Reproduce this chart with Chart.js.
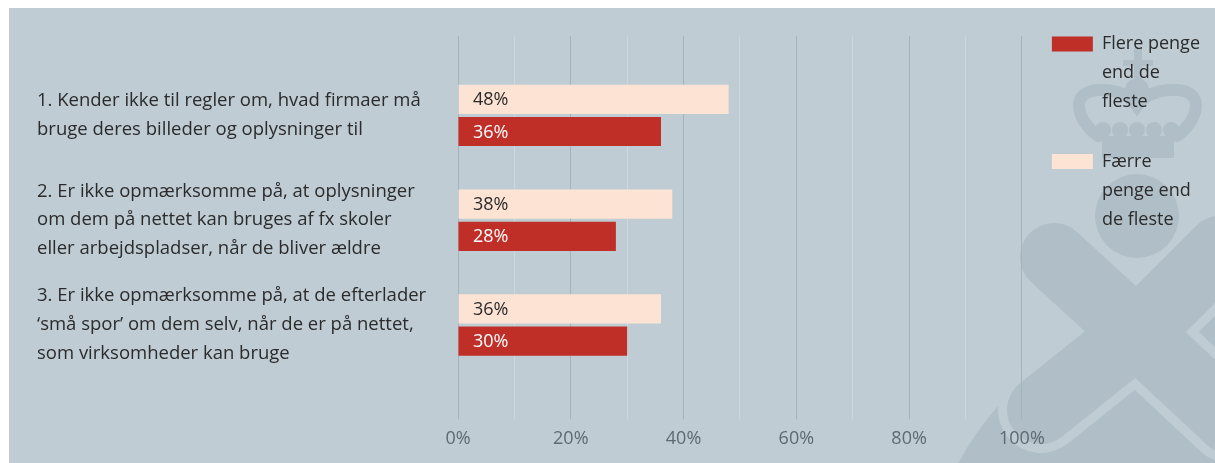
<!DOCTYPE html>
<html>
<head>
<meta charset="utf-8">
<script src="https://cdn.jsdelivr.net/npm/chart.js@4.4.1/dist/chart.umd.min.js"></script>
<style>
  html, body { margin: 0; padding: 0; background: #fff; }
  canvas { display: block; }
</style>
</head>
<body>
<canvas id="myChart" width="1215" height="463"></canvas>
<script>
// data
const categories = [
    ['1. Kender ikke til regler om, hvad firmaer må', 'bruge deres billeder og oplysninger til'],
    ['2. Er ikke opmærksomme på, at oplysninger', 'om dem på nettet kan bruges af fx skoler', 'eller arbejdspladser, når de bliver ældre'],
    ['3. Er ikke opmærksomme på, at de efterlader', '‘små spor’ om dem selv, når de er på nettet,', 'som virksomheder kan bruge']
];
const seriesNames = ['Færre penge end de fleste', 'Flere penge end de fleste'];
const legendLines = [['Færre', 'penge end', 'de fleste'], ['Flere penge', 'end de', 'fleste']];
const faerreValues = [48, 38, 36];
const flereValues = [36, 28, 30];
const xTickLabels = [0, 20, 40, 60, 80, 100];

const panelColor = '#bfccd4';
const markColor = '#b0bec7';
const darkGrid = '#a5b3bb';
const lightGrid = '#cdd7dd';

Chart.defaults.font.family = '"Open Sans", "Noto Sans", sans-serif';

// grey panel and the faint logo behind the chart
const panel = {
    id: 'panel',
    beforeDraw(chart) {
        const ctx = chart.ctx;
        ctx.save();
        ctx.fillStyle = '#ffffff';
        ctx.fillRect(0, 0, chart.width, chart.height);
        ctx.fillStyle = panelColor;
        ctx.fillRect(9, 8, chart.width - 9, chart.height - 8);

        ctx.beginPath();
        ctx.rect(9, 8, chart.width - 9, chart.height - 8);
        ctx.clip();

        // swoosh
        ctx.fillStyle = markColor;
        ctx.beginPath();
        ctx.ellipse(1165, 480, 250, 165, -0.55, 0, Math.PI * 2);
        ctx.fill();

        // X with a gap round it
        const arms = [[1054, 257], [1220, 250], [1041, 410], [1230, 420]];
        ctx.lineCap = 'round';
        ctx.strokeStyle = panelColor;
        ctx.lineWidth = 86;
        arms.forEach(a => { ctx.beginPath(); ctx.moveTo(1137, 333); ctx.lineTo(a[0], a[1]); ctx.stroke(); });
        ctx.strokeStyle = markColor;
        ctx.lineWidth = 68;
        arms.forEach(a => { ctx.beginPath(); ctx.moveTo(1137, 333); ctx.lineTo(a[0], a[1]); ctx.stroke(); });

        // orb
        ctx.fillStyle = markColor;
        ctx.beginPath();
        ctx.arc(1137, 216, 42, 0, Math.PI * 2);
        ctx.fill();

        // crown
        ctx.fillRect(1102, 136, 72, 22);
        ctx.fillRect(1134, 48, 8, 36);
        ctx.fillRect(1123, 60, 30, 6);
        ctx.lineWidth = 12;
        ctx.strokeStyle = markColor;
        ctx.beginPath();
        ctx.moveTo(1098, 136);
        ctx.bezierCurveTo(1078, 122, 1068, 92, 1098, 90);
        ctx.bezierCurveTo(1118, 89, 1130, 96, 1137, 106);
        ctx.bezierCurveTo(1144, 96, 1157, 89, 1177, 90);
        ctx.bezierCurveTo(1207, 92, 1197, 122, 1177, 136);
        ctx.stroke();
        ctx.beginPath();
        ctx.arc(1137, 90, 12, 0, Math.PI * 2);
        ctx.fill();
        [1103, 1120, 1137, 1154, 1171].forEach(px => {
            ctx.beginPath();
            ctx.arc(px, 130, 8, 0, Math.PI * 2);
            ctx.fill();
        });
        ctx.restore();
    }
};

// percentage text at the start of each bar
const barLabels = {
    id: 'barLabels',
    afterDatasetsDraw(chart) {
        const ctx = chart.ctx;
        const x0 = chart.scales.x.getPixelForValue(0);
        ctx.save();
        ctx.font = '18px "Open Sans", "Noto Sans", sans-serif';
        ctx.textBaseline = 'middle';
        ctx.textAlign = 'left';
        chart.data.datasets.forEach((ds, i) => {
            chart.getDatasetMeta(i).data.forEach((bar, j) => {
                ctx.fillStyle = i === 0 ? '#2b2b2b' : '#ffffff';
                ctx.fillText(ds.data[j] + '%', x0 + 15, bar.y + 1);
            });
        });
        ctx.restore();
    }
};

const gridColor = c => (c.tick && c.tick.value % 20 === 0) ? darkGrid : lightGrid;

const ctx = document.getElementById('myChart').getContext('2d');
window.myChart = new Chart(ctx, {
    type: 'bar',
    data: {
        labels: categories,
        datasets: [{
            label: seriesNames[0],
            data: faerreValues,
            backgroundColor: '#fde3d3',
            borderWidth: 0,
            categoryPercentage: 0.615,
            barPercentage: 0.906
        }, {
            label: seriesNames[1],
            data: flereValues,
            backgroundColor: '#c02f27',
            borderWidth: 0,
            categoryPercentage: 0.615,
            barPercentage: 0.906
        }]
    },
    options: {
        indexAxis: 'y',
        responsive: false,
        animation: false,
        layout: { padding: { left: 37, top: 5, right: 5, bottom: 4 } },
        scales: {
            x: {
                min: 0, max: 100,
                ticks: {
                    stepSize: 10,
                    autoSkip: false,
                    maxRotation: 0,
                    padding: 9,
                    color: '#5e6a72',
                    font: { size: 18 },
                    callback: v => xTickLabels.includes(v) ? v + '%' : ''
                },
                grid: { color: gridColor, tickColor: gridColor, tickLength: 42, lineWidth: 1 },
                border: { display: false }
            },
            x2: {
                position: 'top',
                min: 0, max: 100,
                ticks: { display: false, stepSize: 10, autoSkip: false },
                title: { display: true, text: '', padding: 0, font: { size: 31, lineHeight: 1 } },
                grid: { color: gridColor, tickColor: gridColor, tickLength: 27, drawOnChartArea: false },
                border: { display: false }
            },
            y: {
                ticks: {
                    crossAlign: 'far',
                    color: '#2b2b2b',
                    font: { size: 18.5, lineHeight: 1.557 }
                },
                grid: { display: false },
                border: { display: false },
                afterFit(scale) { scale.width = 421; }
            }
        },
        plugins: {
            tooltip: { enabled: false },
            legend: {
                position: 'right',
                align: 'start',
                reverse: true,
                labels: {
                    boxWidth: 41,
                    boxHeight: 15,
                    padding: 30,
                    color: '#2b2b2b',
                    font: { size: 18, lineHeight: 1.62 },
                    generateLabels(chart) {
                        const items = Chart.defaults.plugins.legend.labels.generateLabels(chart);
                        items.forEach(it => { it.text = legendLines[it.datasetIndex]; it.lineWidth = 0; });
                        return items;
                    }
                }
            }
        }
    },
    plugins: [panel, barLabels]
});
</script>
</body>
</html>
